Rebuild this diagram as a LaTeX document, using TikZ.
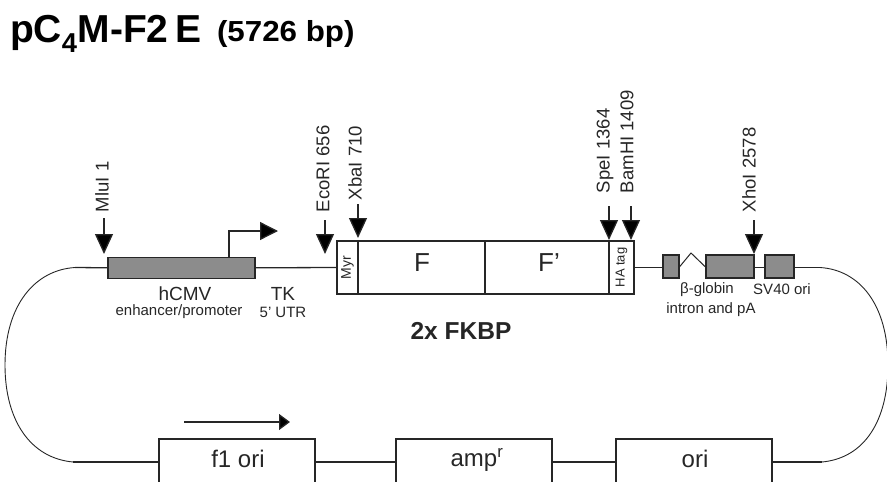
\documentclass[tikz,border=0pt]{standalone}
\usepackage{fontspec}
\setmainfont{Liberation Sans}
\usetikzlibrary{arrows.meta}
\tikzset{
  x=1pt,y=-1pt,
  every node/.style={inner sep=0pt,outer sep=0pt,text=black!85},
  wire/.style={line width=1.3pt,draw=black!85},
  thin curve/.style={line width=0.9pt,draw=black!85},
  gene/.style={draw=black!85,line width=1.2pt,fill=black!45,inner sep=0pt,minimum height=21pt,anchor=west},
  cell/.style={draw=black!85,line width=1.1pt,inner sep=0pt,minimum height=53pt,anchor=west},
  site/.style={wire,-{Triangle[length=20pt,width=18pt,fill=black]}},
  lab/.style={font=\fontsize{18.5}{18}\selectfont,rotate=90,anchor=west},
  txt/.style={font=\fontsize{19}{19}\selectfont},
  small/.style={font=\fontsize{15}{15}\selectfont},
  big/.style={font=\fontsize{24}{24}\selectfont},
}
\begin{document}
\begin{tikzpicture}
\useasboundingbox (0,0) rectangle (887,482);
% title
\node[anchor=base west,font=\bfseries\fontsize{39}{39}\selectfont,text=black] (title) at (10,42)
  {pC$_{\mathbf 4}$M-F2\,E};
\node[anchor=base west,font=\bfseries\fontsize{29}{29}\selectfont,text=black,xscale=1.08] (sub) at (217,41) {(5726 bp)};
% top row
\node[gene,minimum width=147pt] (cmv) at (108,267.8) {};
\node[cell,minimum width=21pt] (myr) at (337,267.5) {};
\node[cell,minimum width=127pt] (f) at (358,267.5) {};
\node[cell,minimum width=124pt] (fp) at (485,267.5) {};
\node[cell,minimum width=25pt] (ha) at (609,267.5) {};
\node[gene,minimum width=16pt,minimum height=23pt] (g1) at (663,266.5) {};
\node[gene,minimum width=48pt,minimum height=23pt] (g2) at (706,266.5) {};
\node[gene,minimum width=29pt,minimum height=23pt] (sv) at (765,266.5) {};
\node[font=\fontsize{14}{14}\selectfont,rotate=90] (myrt) at (myr.center) {Myr};
\node[font=\fontsize{26}{26}\selectfont] (ft) at (422,263) {F};
\node[font=\fontsize{26}{26}\selectfont] (fpt) at (549,263) {F'};
\node[font=\fontsize{13}{13}\selectfont,rotate=90] (hat) at (ha.center) {HA tag};
% bottom row
\coordinate (bl) at (73,462);
\coordinate (br) at (822,462);
\coordinate (tl) at (75,267.5);
\coordinate (tr) at (820,267.5);
\begin{scope}
\clip (0,0) rectangle (887,482);
\node[draw=black!85,line width=1.1pt,minimum width=156pt,minimum height=90pt,anchor=north west] (f1) at (159,439) {};
\node[draw=black!85,line width=1.1pt,minimum width=156pt,minimum height=90pt,anchor=north west] (amp) at (396,439) {};
\node[draw=black!85,line width=1.1pt,minimum width=156pt,minimum height=90pt,anchor=north west] (ori) at (616,439) {};
\end{scope}
\node[big] (f1t) at (238,459) {f1 ori};
\node[big] (ampt) at (477,460) {amp\textsuperscript{r}};
\node[big] (orit) at (695,459) {ori};
% backbone
\draw[wire] (tl) -- (cmv.west);
\draw[wire] (cmv.east) -- (myr.west);
\draw[wire] (ha.east) -- (ha.east -| g1.west);
\draw[wire] (g2.east |- tl) -- (sv.west |- tl);
\draw[wire] (sv.east |- tl) -- (tr);
\draw[wire] (bl) -- (f1.west |- bl);
\draw[wire] (f1.east |- bl) -- (amp.west |- bl);
\draw[wire] (amp.east |- bl) -- (ori.west |- bl);
\draw[wire] (ori.east |- bl) -- (br);
\draw[thin curve] (tl) .. controls (35,270) and (5,305) .. (5,365) .. controls (5,420) and (30,458) .. (bl);
\draw[thin curve] (tr) .. controls (860,270) and (888,305) .. (888,365) .. controls (888,420) and (865,458) .. (br);
% intron
\coordinate (apex) at (691,253);
\draw[line width=1pt,draw=black!85] (g1.east |- tl) -- (apex) -- (g2.west |- tl);
% promoter and f1 direction arrows
\coordinate (pa) at (229,257);
\coordinate (pb) at (229,231);
\coordinate (pc) at (278,231);
\draw[wire,-{Triangle[length=18pt,width=18pt,fill=black]}] (pa) -- (pb) -- (pc);
\coordinate (da) at (184,422);
\coordinate (db) at (290,422);
\draw[wire,-{Triangle[length=11pt,width=16pt,fill=black]}] (da) -- (db);
% restriction sites
\coordinate (s1) at (104,218); \coordinate (e1) at (104,254);
\coordinate (s2) at (325,220); \coordinate (e2) at (325,254);
\coordinate (s3) at (358,204); \coordinate (e3) at (358,238);
\coordinate (s4) at (609,206); \coordinate (e4) at (609,240);
\coordinate (s5) at (631,206); \coordinate (e5) at (631,240);
\coordinate (s6) at (754,220); \coordinate (e6) at (754,254);
\draw[site] (s1) -- (e1);
\draw[site] (s2) -- (e2);
\draw[site] (s3) -- (e3);
\draw[site] (s4) -- (e4);
\draw[site] (s5) -- (e5);
\draw[site] (s6) -- (e6);
\node[lab] (l1) at (102,212) {MluI 1};
\node[lab] (l2) at (323,212) {EcoRI 656};
\node[lab] (l3) at (355,200) {XbaI 710};
\node[lab] (l4) at (605,193) {SpeI 1364};
\node[lab] (l5) at (627,193) {BamHI 1409};
\node[lab] (l6) at (749,212) {XhoI 2578};
% captions
\node[txt] (t1) at (185,294) {hCMV};
\node[small] (t2) at (179,312) {enhancer/promoter};
\node[txt] (t3) at (283,294) {TK};
\node[small] (t4) at (283,312) {5' UTR};
\node[font=\bfseries\fontsize{24.5}{24}\selectfont] (t5) at (461,331) {2x FKBP};
\node[small] (t6) at (707,290) {β-globin};
\node[small] (t7) at (711,310) {intron and pA};
\node[small] (t8) at (782,289) {SV40 ori};
\end{tikzpicture}
\end{document}
